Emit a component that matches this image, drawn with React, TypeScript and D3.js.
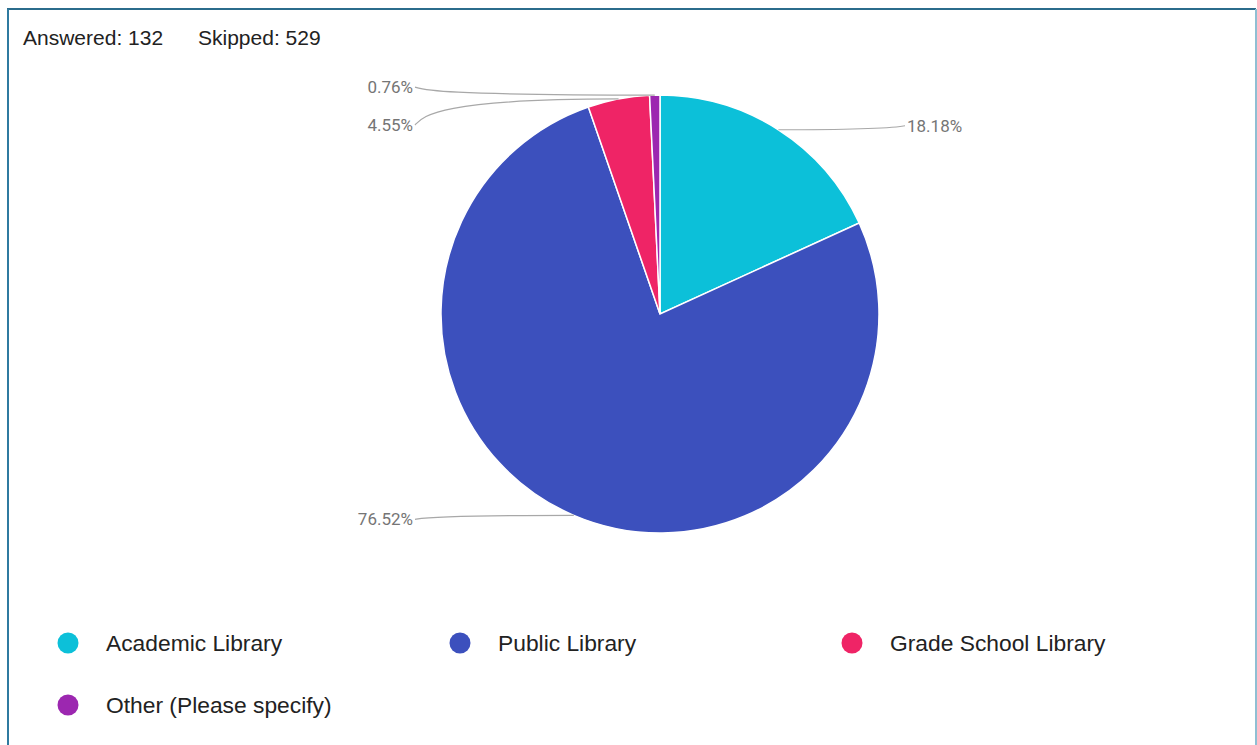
import React from "react";
import * as d3 from "d3";

const categories = ["Academic Library", "Public Library", "Grade School Library", "Other (Please specify)"];
const counts = [24, 101, 6, 1];
const colors = ["#0cc0d9", "#3c50bd", "#ef2466", "#9c27b0"];
const answered = 132;
const skipped = 529;

const W = 1257;
const H = 745;
const cx = 660;
const cy = 314;
const R = 219;
// label vertical nudges (layout only, to avoid collisions)
const labelNudge = [-4, 4, 26, -8];

export default function App() {
  const total = d3.sum(counts);
  const pie = d3.pie<number>().sort(null).value((d) => d);
  const arcs = pie(counts);
  const arcGen = d3.arc<d3.PieArcDatum<number>>().innerRadius(0).outerRadius(R);
  const fmt = d3.format(".2%");

  const labels = arcs.map((a, i) => {
    const ang = (a.startAngle + a.endAngle) / 2;
    const ex = cx + R * Math.sin(ang);
    const ey = cy - R * Math.cos(ang);
    const right = Math.sin(ang) >= 0;
    const lx = right ? cx + R + 28 : cx - R - 28;
    const ly = ey + labelNudge[i];
    const endX = right ? lx - 2 : lx + 2;
    const dir = right ? 1 : -1;
    const path = `M${ex},${ey} C${endX - dir * 18},${ey} ${endX - dir * 8},${ly + (ey - ly) * 0.3} ${endX},${ly}`;
    return { ex, ey, lx, ly, right, path, text: fmt(a.data / total) };
  });

  const legendCols = [68, 460, 852];
  const legendRows = [643, 705];

  return (
    <svg
      width={W}
      height={H}
      style={{ position: "absolute", left: 0, top: 0, background: "#fff" }}
    >
      <rect x={0} y={0} width={W} height={H} fill="#fff" />
      <line x1={7} y1={9} x2={1256} y2={9} stroke="#2b6c8c" strokeWidth={2} />
      <line x1={8} y1={9} x2={8} y2={H} stroke="#2f7aa0" strokeWidth={2} />
      <line x1={1256} y1={9} x2={1256} y2={H} stroke="#8fbfd3" strokeWidth={2} />

      <text x={23} y={45} fontFamily="'Liberation Sans', Arial, sans-serif" fontSize={21} fill="#222">
        {`Answered: ${answered}`}
      </text>
      <text x={198} y={45} fontFamily="'Liberation Sans', Arial, sans-serif" fontSize={21} fill="#222">
        {`Skipped: ${skipped}`}
      </text>

      <g>
        {arcs.map((a, i) => (
          <path
            key={i}
            d={arcGen(a) || ""}
            transform={`translate(${cx},${cy})`}
            fill={colors[i]}
            stroke="#fff"
            strokeWidth={1.5}
          />
        ))}
      </g>

      <g>
        {labels.map((l, i) => (
          <g key={i}>
            <path d={l.path} fill="none" stroke="#a8a8a8" strokeWidth={1.2} />
            <text
              x={l.lx}
              y={l.ly}
              dy="0.35em"
              textAnchor={l.right ? "start" : "end"}
              fontFamily="Roboto, sans-serif"
              fontSize={17}
              fill="#757575"
            >
              {l.text}
            </text>
          </g>
        ))}
      </g>

      <g>
        {categories.map((c, i) => {
          const x = legendCols[i % 3];
          const y = legendRows[Math.floor(i / 3)];
          return (
            <g key={c}>
              <circle cx={x} cy={y} r={10.5} fill={colors[i]} />
              <text
                x={x + 38}
                y={y}
                dy="0.35em"
                fontFamily="'Liberation Sans', Arial, sans-serif"
                fontSize={22.8}
                fill="#222"
              >
                {c}
              </text>
            </g>
          );
        })}
      </g>
    </svg>
  );
}
